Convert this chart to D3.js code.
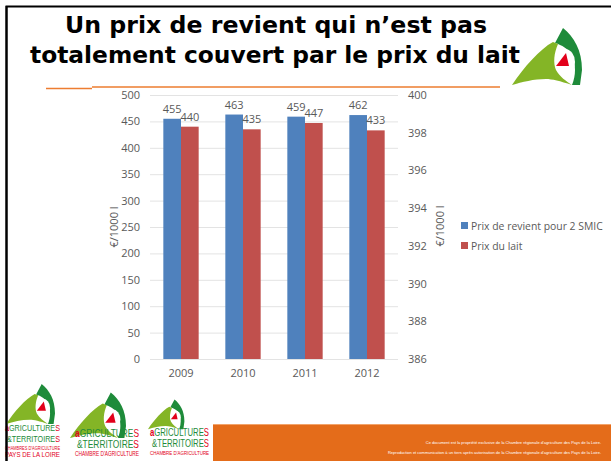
<!DOCTYPE html>
<html>
<head>
<meta charset="utf-8">
<script src="https://cdn.jsdelivr.net/npm/d3@7"></script>
<style>
  body { margin: 0; background: #fff; }
  svg { display: block; }
  .axis-text { font-family: "Open Sans", sans-serif; font-size: 11px; fill: #595959; }
</style>
</head>
<body>
<div id="chart"></div>
<script>
// Data
const years = ["2009", "2010", "2011", "2012"];
const prixRevient = [455, 463, 459, 462];
const prixLait = [440, 435, 447, 433];
const leftTicks = [0, 50, 100, 150, 200, 250, 300, 350, 400, 450, 500];
const rightTicks = [386, 388, 390, 392, 394, 396, 398, 400];
const seriesNames = ["Prix de revient pour 2 SMIC", "Prix du lait"];
const seriesColors = ["#4F81BD", "#C0504D"];

const width = 611, height = 461;
const svg = d3.select("#chart").append("svg")
    .attr("width", width)
    .attr("height", height);

// Slide border
svg.append("path")
    .attr("d", "M6.5,461 L6.5,6.5 L611,6.5")
    .attr("fill", "none")
    .attr("stroke", "#000")
    .attr("stroke-width", 2);

// Title
const title = svg.append("g")
    .style("font-family", "'DejaVu Sans', Verdana, sans-serif")
    .style("font-weight", "bold")
    .style("font-size", "23px")
    .attr("fill", "#000");
title.append("text").attr("x", 65).attr("y", 33)
    .attr("textLength", 422).attr("lengthAdjust", "spacingAndGlyphs")
    .text("Un prix de revient qui n\u2019est pas");
title.append("text").attr("x", 30).attr("y", 63)
    .attr("textLength", 490).attr("lengthAdjust", "spacingAndGlyphs")
    .text("totalement couvert par le prix du lait");

// Orange rule under title
svg.append("path")
    .attr("d", "M46,88.5 L92,88.5 M92,87 L500,87")
    .attr("stroke", "#ED7D31")
    .attr("stroke-width", 1.5)
    .attr("fill", "none");

// Logo drawing (approx. 70x61 box)
function drawLogo(g) {
    g.append("path")
        .attr("d", "M51,3 C62,12 70,25 70,45 L68,60 L60,60 C64,50 64,40 60,30 C56,24 50,20 43,18 Z")
        .attr("fill", "#1E8B3A");
    g.append("path")
        .attr("d", "M0,60 C12,42 28,24 41,17 L46,19 C42,28 41,38 44,45 C48,52 54,56 60,60 C48,56 40,54 34,54 C22,54 10,57 0,60 Z")
        .attr("fill", "#84B526");
    g.append("ellipse").attr("cx", 53).attr("cy", 37).attr("rx", 10).attr("ry", 13).attr("fill", "#fff");
    g.append("path")
        .attr("d", "M44,41 L54,28 L57,41 Z")
        .attr("fill", "#E2001A");
}

drawLogo(svg.append("g").attr("transform", "translate(512,25)"));

// Chart
const x0 = d3.scaleBand().domain(years).range([150, 398]).paddingInner(0.43).paddingOuter(0.215);
const x1 = d3.scaleBand().domain([0, 1]).range([0, x0.bandwidth()]);
const yL = d3.scaleLinear().domain([0, 500]).range([359, 95]);
const yR = d3.scaleLinear().domain([386, 400]).range([359, 95]);

// Gridlines
svg.append("g").selectAll("line").data(leftTicks).join("line")
    .attr("x1", 150).attr("x2", 398)
    .attr("y1", d => yL(d) + 0.5).attr("y2", d => yL(d) + 0.5)
    .attr("stroke", "#E3E3E3").attr("stroke-width", 1);

// Left axis
const axL = svg.append("g").attr("transform", "translate(150,0)")
    .call(d3.axisLeft(yL).tickValues(leftTicks).tickSize(0).tickPadding(10));
axL.select(".domain").remove();
axL.selectAll("text").attr("class", "axis-text").attr("fill", null);

// Right axis
const axR = svg.append("g").attr("transform", "translate(398,0)")
    .call(d3.axisRight(yR).tickValues(rightTicks).tickSize(0).tickPadding(10));
axR.select(".domain").remove();
axR.selectAll("text").attr("class", "axis-text").attr("fill", null);

// Bottom axis
const axB = svg.append("g").attr("transform", "translate(0,359)")
    .call(d3.axisBottom(x0).tickSize(0).tickPadding(10));
axB.select(".domain").remove();
axB.selectAll("text").attr("class", "axis-text").attr("fill", null);

// Axis titles
svg.append("text").attr("class", "axis-text")
    .attr("transform", "translate(118,227) rotate(-90)")
    .attr("text-anchor", "middle").text("\u20ac/1000 l");
svg.append("text").attr("class", "axis-text")
    .attr("transform", "translate(444,226) rotate(-90)")
    .attr("text-anchor", "middle").text("\u20ac/1000 l");

// Bars
const series = [prixRevient, prixLait];
series.forEach((vals, si) => {
    const g = svg.append("g");
    g.selectAll("rect").data(vals).join("rect")
        .attr("x", (d, i) => x0(years[i]) + x1(si))
        .attr("y", d => yL(d))
        .attr("width", x1.bandwidth())
        .attr("height", d => yL(0) - yL(d))
        .attr("fill", seriesColors[si]);
    g.selectAll("text").data(vals).join("text")
        .attr("class", "axis-text")
        .attr("x", (d, i) => x0(years[i]) + x1(si) + x1.bandwidth() / 2)
        .attr("y", d => yL(d) - 6)
        .attr("text-anchor", "middle")
        .text(d => d);
});

// Legend
const legend = svg.append("g").attr("transform", "translate(461,222)");
seriesNames.forEach((name, i) => {
    const g = legend.append("g").attr("transform", `translate(0,${i * 20})`);
    g.append("rect").attr("width", 7).attr("height", 7).attr("fill", seriesColors[i]);
    g.append("text").attr("class", "axis-text").attr("x", 10).attr("y", 7.5)
        .style("font-size", "10.4px").text(name);
});

// Footer bar
svg.append("rect").attr("x", 213).attr("y", 424).attr("width", 398).attr("height", 37).attr("fill", "#E46C1A");
svg.append("line").attr("x1", 213).attr("x2", 611).attr("y1", 424.5).attr("y2", 424.5).attr("stroke", "#F2A36A");
const foot = svg.append("g").style("font-family", "'Liberation Sans', Arial, sans-serif")
    .style("font-size", "4px").attr("fill", "#fff").attr("text-anchor", "end");
foot.append("text").attr("x", 601).attr("y", 444)
    .text("Ce document est la propri\u00e9t\u00e9 exclusive de la Chambre r\u00e9gionale d\u2019agriculture des Pays de la Loire.");
foot.append("text").attr("x", 601).attr("y", 454)
    .text("Reproduction et communication \u00e0 un tiers apr\u00e8s autorisation de la Chambre r\u00e9gionale d\u2019agriculture des Pays de la Loire.");

// shrink a text's font so its natural width matches w
function fitWidth(sel, base, w) {
    sel.style("font-size", base + "px");
    const len = sel.node().getComputedTextLength();
    sel.style("font-size", (base * w / len) + "px");
}

// Bottom logos
function logoBlock(lx, ly, s, tx, ty, tw, lines) {
    drawLogo(svg.append("g").attr("transform", `translate(${lx},${ly}) scale(${s})`));
    const t = svg.append("g")
        .attr("transform", `translate(${tx},${ty}) scale(1,1.3)`)
        .style("font-family", "'Liberation Sans Narrow', 'Liberation Sans', Arial, sans-serif");
    const a = t.append("text").attr("x", 0).attr("y", 0);
    a.append("tspan").attr("fill", "#E2001A").style("font-weight", "bold").text("a");
    a.append("tspan").attr("fill", "#1E8B3A").text("GRICULTURE");
    a.append("tspan").attr("fill", "#E2001A").text("S");
    fitWidth(a, 10, tw);
    const b = t.append("text").attr("x", 2).attr("y", 8.3);
    b.append("tspan").attr("fill", "#1E8B3A").text("&TERRITOIRE");
    b.append("tspan").attr("fill", "#E2001A").text("S");
    fitWidth(b, 10, tw - 2);
    lines.forEach((l, i) => {
        const c = t.append("text").attr("x", 0).attr("y", 14.5 + i * 5.6)
            .attr("fill", "#E2001A").text(l);
        fitWidth(c, 5, tw);
    });
}

logoBlock(6, 382, 0.7, 5, 431, 55, ["CHAMBRES D'AGRICULTURE", "PAYS DE LA LOIRE"]);
logoBlock(70, 390, 0.8, 75, 437, 64, ["CHAMBRE D'AGRICULTURE"]);
logoBlock(148, 398, 0.52, 150, 436, 59, ["CHAMBRE D'AGRICULTURE"]);
// redraw the border over logo edge
svg.append("line").attr("x1", 6.5).attr("x2", 6.5).attr("y1", 6).attr("y2", 461)
    .attr("stroke", "#000").attr("stroke-width", 2);
</script>
</body>
</html>
